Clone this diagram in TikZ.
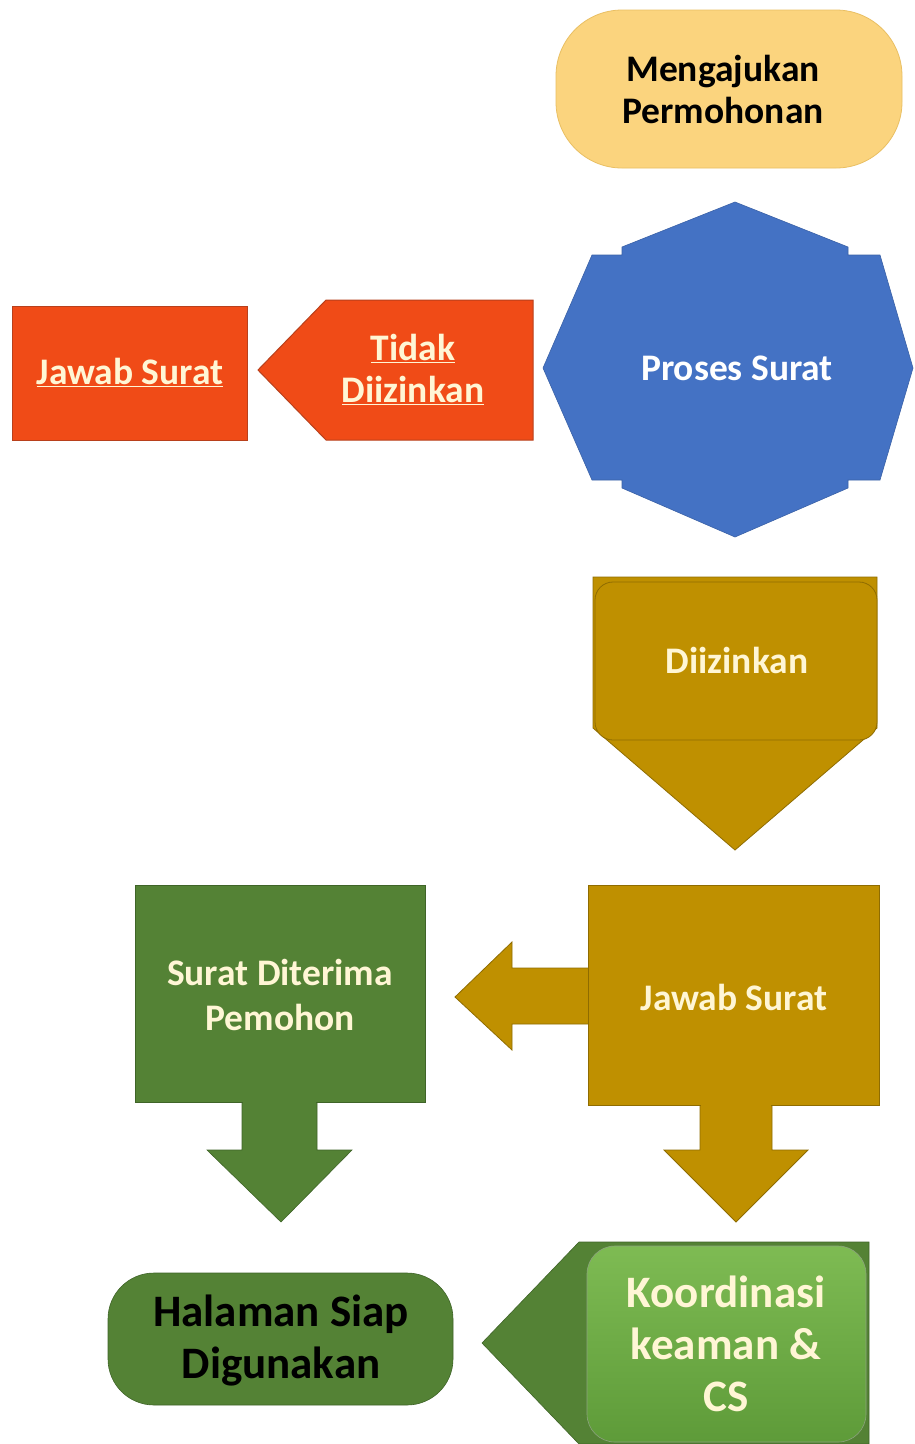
\documentclass[tikz,border=0pt]{standalone}
\usepackage{fontspec}
\setmainfont{Carlito}
\definecolor{cYellow}{HTML}{FBD47E}
\definecolor{cYellowB}{HTML}{E9BF63}
\definecolor{cBlue}{HTML}{4472C4}
\definecolor{cRed}{HTML}{F04B17}
\definecolor{cRedB}{HTML}{B8401C}
\definecolor{cGold}{HTML}{BF9000}
\definecolor{cGoldB}{HTML}{8F6C00}
\definecolor{cGreen}{HTML}{548235}
\definecolor{cGreenB}{HTML}{3F6428}
\definecolor{cLGreenT}{HTML}{7EBB53}
\definecolor{cLGreenB}{HTML}{5E9B39}
\definecolor{cCream}{HTML}{FFF6D5}
\tikzset{
  txt/.style={align=center,inner sep=0pt,font={\fontsize{37.5}{42}\selectfont\bfseries}},
  txtbig/.style={align=center,inner sep=0pt,font={\fontsize{45}{52}\selectfont\bfseries}},
  yellowshape/.style={fill=cYellow,draw=cYellowB,line width=0.8pt},
  blueshape/.style={fill=cBlue,draw=cBlue!85!black,line width=0.6pt},
  redshape/.style={fill=cRed,draw=cRedB,line width=1pt},
  goldshape/.style={fill=cGold,draw=cGoldB,line width=0.8pt},
  greenshape/.style={fill=cGreen,draw=cGreenB,line width=0.6pt},
}
\begin{document}
\begin{tikzpicture}[x=1pt,y=-1pt]
\useasboundingbox (0,0) rectangle (915,1444);
\fill[white] (0,0) rectangle (915,1444);

% Mengajukan Permohonan
\draw[yellowshape,rounded corners=66] (556,10) rectangle (902,168);
\node[txt,text=black] (mengajukan) at (723,89) {Mengajukan\\Permohonan};

% Proses Surat
\draw[blueshape] (735,202) -- (848,247) -- (848,255) -- (880,255) -- (913,368)
  -- (880,480) -- (848,480) -- (848,488) -- (735,537) -- (622,488) -- (622,480)
  -- (592,480) -- (543,368) -- (592,255) -- (622,255) -- (622,247) -- cycle;
\node[txt,text=white] (proses) at (737,368) {Proses Surat};

% Tidak Diizinkan (left pentagon)
\draw[redshape] (258,370) -- (326,300) -- (533,300) -- (533,440) -- (326,440) -- cycle;
\node[txt,text=cCream] (tidak) at (413,369) {\underline{Tidak}\\\underline{Diizinkan}};

% Jawab Surat (red)
\draw[redshape] (12,306) rectangle (247,440);
\node[txt,text=cCream] (jawabred) at (130,372) {\underline{Jawab Surat}};

% Diizinkan
\draw[goldshape] (593,577) -- (877,577) -- (877,728) -- (735,850) -- (593,728) -- cycle;
\draw[goldshape,rounded corners=18] (595,582) rectangle (877,740);
\node[txt,text=cCream] (diizinkan) at (737,660) {Diizinkan};

% Jawab Surat (gold) with arrows
\draw[goldshape] (590,968) -- (512,968) -- (512,942) -- (455,997) -- (512,1050)
  -- (512,1024) -- (590,1024) -- cycle;
\draw[goldshape] (700,1100) -- (700,1150) -- (664,1150) -- (736,1222) -- (808,1150)
  -- (772,1150) -- (772,1100) -- cycle;
\draw[goldshape] (588,885) rectangle (879,1105);
\fill[cGold] (701,1104) rectangle (771,1108);
\node[txt,text=cCream] (jawabgold) at (734,997) {Jawab Surat};

% Surat Diterima Pemohon
\draw[greenshape] (242,1098) -- (242,1150) -- (207,1150) -- (281,1222) -- (352,1150)
  -- (317,1150) -- (317,1098) -- cycle;
\draw[greenshape] (135,885) rectangle (425,1102);
\fill[cGreen] (243,1101) rectangle (316,1104);
\node[txt,text=cCream,font={\fontsize{37.5}{45}\selectfont\bfseries}] (diterima) at (280,995) {Surat Diterima\\Pemohon};

% Koordinasi keaman & CS
\draw[greenshape] (482,1343) -- (579,1242) -- (869,1242) -- (869,1444) -- (579,1444) -- cycle;
\shade[top color=cLGreenT,bottom color=cLGreenB,rounded corners=28,draw=cGreenB!60,line width=0.6pt]
  (587,1246) rectangle (866,1442);
\node[txtbig,text=cCream] (koord) at (726,1344) {Koordinasi\\keaman \&\\CS};

% Halaman Siap Digunakan
\draw[greenshape,rounded corners=46] (108,1273) rectangle (453,1405);
\node[txt,text=black,font={\fontsize{45}{52}\selectfont\bfseries}] (halaman) at (281,1341) {Halaman Siap\\Digunakan};
\end{tikzpicture}
\end{document}
